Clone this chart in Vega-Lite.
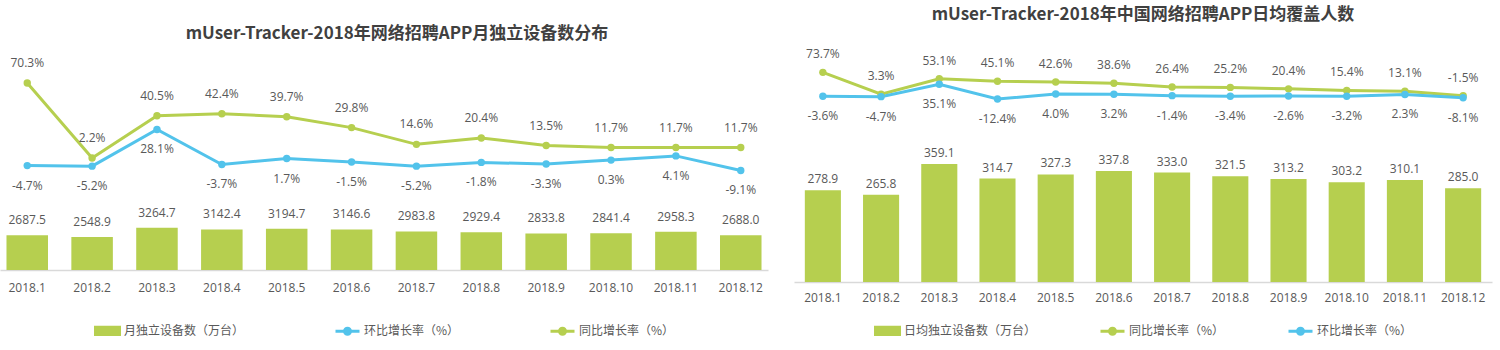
{
  "$schema": "https://vega.github.io/schema/vega-lite/v6.json",
  "padding": {"left": 0, "top": 6, "right": 5, "bottom": 5},
  "bounds": "flush",
  "spacing": 26,
  "config": {
    "view": {"stroke": null},
    "locale": {"number": {"decimal": ".", "thousands": ",", "grouping": [3], "currency": ["", ""], "minus": "-"}},
    "axisX": {"labelFont": "Open Sans", "labelFontSize": 12, "labelColor": "#595959", "ticks": false, "domainColor": "#d9d9d9", "domainWidth": 1.5, "grid": false, "labelAngle": 0},
    "legend": {"padding": 0, "layout": {"bottom": {"anchor": "middle"}}},
    "title": {"font": "Noto Sans CJK SC", "fontSize": 17, "fontWeight": "bold", "color": "#404040", "anchor": "middle", "frame": "group"}
  },
  "datasets": {
    "lbar": [
      {"m": "2018.1", "v": 2687.5}, {"m": "2018.2", "v": 2548.9}, {"m": "2018.3", "v": 3264.7}, {"m": "2018.4", "v": 3142.4},
      {"m": "2018.5", "v": 3194.7}, {"m": "2018.6", "v": 3146.6}, {"m": "2018.7", "v": 2983.8}, {"m": "2018.8", "v": 2929.4},
      {"m": "2018.9", "v": 2833.8}, {"m": "2018.10", "v": 2841.4}, {"m": "2018.11", "v": 2958.3}, {"m": "2018.12", "v": 2688.0}
    ],
    "lline": [
      {"m": "2018.1", "s": "环比增长率（%）", "v": -0.047}, {"m": "2018.2", "s": "环比增长率（%）", "v": -0.052},
      {"m": "2018.3", "s": "环比增长率（%）", "v": 0.281}, {"m": "2018.4", "s": "环比增长率（%）", "v": -0.037},
      {"m": "2018.5", "s": "环比增长率（%）", "v": 0.017}, {"m": "2018.6", "s": "环比增长率（%）", "v": -0.015},
      {"m": "2018.7", "s": "环比增长率（%）", "v": -0.052}, {"m": "2018.8", "s": "环比增长率（%）", "v": -0.018},
      {"m": "2018.9", "s": "环比增长率（%）", "v": -0.033}, {"m": "2018.10", "s": "环比增长率（%）", "v": 0.003},
      {"m": "2018.11", "s": "环比增长率（%）", "v": 0.041}, {"m": "2018.12", "s": "环比增长率（%）", "v": -0.091},
      {"m": "2018.1", "s": "同比增长率（%）", "v": 0.703}, {"m": "2018.2", "s": "同比增长率（%）", "v": 0.022},
      {"m": "2018.3", "s": "同比增长率（%）", "v": 0.405}, {"m": "2018.4", "s": "同比增长率（%）", "v": 0.424},
      {"m": "2018.5", "s": "同比增长率（%）", "v": 0.397}, {"m": "2018.6", "s": "同比增长率（%）", "v": 0.298},
      {"m": "2018.7", "s": "同比增长率（%）", "v": 0.146}, {"m": "2018.8", "s": "同比增长率（%）", "v": 0.204},
      {"m": "2018.9", "s": "同比增长率（%）", "v": 0.135}, {"m": "2018.10", "s": "同比增长率（%）", "v": 0.117},
      {"m": "2018.11", "s": "同比增长率（%）", "v": 0.117}, {"m": "2018.12", "s": "同比增长率（%）", "v": 0.117}
    ],
    "rbar": [
      {"m": "2018.1", "v": 278.9}, {"m": "2018.2", "v": 265.8}, {"m": "2018.3", "v": 359.1}, {"m": "2018.4", "v": 314.7},
      {"m": "2018.5", "v": 327.3}, {"m": "2018.6", "v": 337.8}, {"m": "2018.7", "v": 333.0}, {"m": "2018.8", "v": 321.5},
      {"m": "2018.9", "v": 313.2}, {"m": "2018.10", "v": 303.2}, {"m": "2018.11", "v": 310.1}, {"m": "2018.12", "v": 285.0}
    ],
    "rline": [
      {"m": "2018.1", "s": "同比增长率（%）", "v": 0.737}, {"m": "2018.2", "s": "同比增长率（%）", "v": 0.033},
      {"m": "2018.3", "s": "同比增长率（%）", "v": 0.531}, {"m": "2018.4", "s": "同比增长率（%）", "v": 0.451},
      {"m": "2018.5", "s": "同比增长率（%）", "v": 0.426}, {"m": "2018.6", "s": "同比增长率（%）", "v": 0.386},
      {"m": "2018.7", "s": "同比增长率（%）", "v": 0.264}, {"m": "2018.8", "s": "同比增长率（%）", "v": 0.252},
      {"m": "2018.9", "s": "同比增长率（%）", "v": 0.204}, {"m": "2018.10", "s": "同比增长率（%）", "v": 0.154},
      {"m": "2018.11", "s": "同比增长率（%）", "v": 0.131}, {"m": "2018.12", "s": "同比增长率（%）", "v": -0.015},
      {"m": "2018.1", "s": "环比增长率（%）", "v": -0.036}, {"m": "2018.2", "s": "环比增长率（%）", "v": -0.047},
      {"m": "2018.3", "s": "环比增长率（%）", "v": 0.351}, {"m": "2018.4", "s": "环比增长率（%）", "v": -0.124},
      {"m": "2018.5", "s": "环比增长率（%）", "v": 0.040}, {"m": "2018.6", "s": "环比增长率（%）", "v": 0.032},
      {"m": "2018.7", "s": "环比增长率（%）", "v": -0.014}, {"m": "2018.8", "s": "环比增长率（%）", "v": -0.034},
      {"m": "2018.9", "s": "环比增长率（%）", "v": -0.026}, {"m": "2018.10", "s": "环比增长率（%）", "v": -0.032},
      {"m": "2018.11", "s": "环比增长率（%）", "v": 0.023}, {"m": "2018.12", "s": "环比增长率（%）", "v": -0.081}
    ]
  },
  "hconcat": [
    {
      "width": 768,
      "height": 224,
      "title": {"text": "mUser-Tracker-2018年网络招聘APP月独立设备数分布", "offset": 3, "dx": 13},
      "resolve": {"scale": {"y": "independent"}},
      "layer": [
        {
          "data": {"name": "lbar"},
          "mark": {"type": "bar"},
          "encoding": {
            "x": {"field": "m", "type": "ordinal", "scale": {"domain": ["2018.1","2018.2","2018.3","2018.4","2018.5","2018.6","2018.7","2018.8","2018.9","2018.10","2018.11","2018.12"], "paddingInner": 0.36, "paddingOuter": 0.1}, "axis": {"title": null, "labelPadding": 12}},
            "y": {"field": "v", "type": "quantitative", "scale": {"domain": [0, 17360], "nice": false, "zero": false}, "axis": null},
            "color": {"datum": "月独立设备数（万台）", "type": "nominal",
              "scale": {"domain": ["月独立设备数（万台）", "环比增长率（%）", "同比增长率（%）"], "range": ["#b6cf4f", "#52c3eb", "#b6cf4f"]},
              "legend": {"title": null, "orient": "bottom", "direction": "horizontal", "offset": 24, "labelFont": "Noto Sans CJK SC", "labelFontSize": 12, "labelColor": "#595959", "labelOffset": 3, "symbolSize": 576, "columnPadding": 84,
                "encode": {"symbols": {"update": {
                  "shape": {"signal": "indexof(datum.value,'万台')>=0 ? 'M-1,-0.3H1V0.3H-1Z' : 'M-1,0H1M-0.25,0A0.25,0.25,0,1,1,0.25,0A0.25,0.25,0,1,1,-0.25,0'"},
                  "fill": {"signal": "indexof(datum.value,'环比')>=0 ? '#52c3eb' : '#b6cf4f'"},
                  "stroke": {"signal": "indexof(datum.value,'万台')>=0 ? 'transparent' : (indexof(datum.value,'环比')>=0 ? '#52c3eb' : '#b6cf4f')"},
                  "strokeWidth": {"value": 3},
                  "opacity": {"value": 1}
                }}}}
            }
          }
        },
        {
          "data": {"name": "lbar"},
          "mark": {"type": "text", "font": "Open Sans", "fontSize": 12, "color": "#595959", "baseline": "middle", "dy": -15},
          "encoding": {
            "x": {"field": "m", "type": "ordinal", "scale": {"domain": ["2018.1","2018.2","2018.3","2018.4","2018.5","2018.6","2018.7","2018.8","2018.9","2018.10","2018.11","2018.12"], "paddingInner": 0.36, "paddingOuter": 0.1}, "axis": {"title": null, "labelPadding": 12}},
            "y": {"field": "v", "type": "quantitative", "scale": {"domain": [0, 17360], "nice": false, "zero": false}, "axis": null},
            "text": {"field": "v", "type": "quantitative", "format": ".1f"}
          }
        },
        {
          "data": {"name": "lline"},
          "mark": {"type": "line", "strokeWidth": 3, "point": {"filled": true, "size": 55}},
          "encoding": {
            "x": {"field": "m", "type": "ordinal", "scale": {"domain": ["2018.1","2018.2","2018.3","2018.4","2018.5","2018.6","2018.7","2018.8","2018.9","2018.10","2018.11","2018.12"], "paddingInner": 0.36, "paddingOuter": 0.1}, "axis": {"title": null, "labelPadding": 12}},
            "y": {"field": "v", "type": "quantitative", "scale": {"domain": [-0.995, 1.039], "nice": false, "zero": false}, "axis": null},
            "color": {"field": "s", "type": "nominal",
              "scale": {"domain": ["月独立设备数（万台）", "环比增长率（%）", "同比增长率（%）"], "range": ["#b6cf4f", "#52c3eb", "#b6cf4f"]},
              "legend": {"title": null, "orient": "bottom", "direction": "horizontal", "offset": 24, "labelFont": "Noto Sans CJK SC", "labelFontSize": 12, "labelColor": "#595959", "labelOffset": 3, "symbolSize": 576, "columnPadding": 84,
                "encode": {"symbols": {"update": {
                  "shape": {"signal": "indexof(datum.value,'万台')>=0 ? 'M-1,-0.3H1V0.3H-1Z' : 'M-1,0H1M-0.25,0A0.25,0.25,0,1,1,0.25,0A0.25,0.25,0,1,1,-0.25,0'"},
                  "fill": {"signal": "indexof(datum.value,'环比')>=0 ? '#52c3eb' : '#b6cf4f'"},
                  "stroke": {"signal": "indexof(datum.value,'万台')>=0 ? 'transparent' : (indexof(datum.value,'环比')>=0 ? '#52c3eb' : '#b6cf4f')"},
                  "strokeWidth": {"value": 3},
                  "opacity": {"value": 1}
                }}}}
            }
          }
        },
        {
          "data": {"name": "lline"},
          "transform": [{"filter": "datum.s === '同比增长率（%）'"}],
          "mark": {"type": "text", "font": "Open Sans", "fontSize": 12, "color": "#595959", "baseline": "middle", "dy": -20},
          "encoding": {
            "x": {"field": "m", "type": "ordinal", "scale": {"domain": ["2018.1","2018.2","2018.3","2018.4","2018.5","2018.6","2018.7","2018.8","2018.9","2018.10","2018.11","2018.12"], "paddingInner": 0.36, "paddingOuter": 0.1}, "axis": {"title": null, "labelPadding": 12}},
            "y": {"field": "v", "type": "quantitative", "scale": {"domain": [-0.995, 1.039], "nice": false, "zero": false}, "axis": null},
            "text": {"field": "v", "type": "quantitative", "format": ".1%"}
          }
        },
        {
          "data": {"name": "lline"},
          "transform": [{"filter": "datum.s === '环比增长率（%）'"}],
          "mark": {"type": "text", "font": "Open Sans", "fontSize": 12, "color": "#595959", "baseline": "middle", "dy": 20},
          "encoding": {
            "x": {"field": "m", "type": "ordinal", "scale": {"domain": ["2018.1","2018.2","2018.3","2018.4","2018.5","2018.6","2018.7","2018.8","2018.9","2018.10","2018.11","2018.12"], "paddingInner": 0.36, "paddingOuter": 0.1}, "axis": {"title": null, "labelPadding": 12}},
            "y": {"field": "v", "type": "quantitative", "scale": {"domain": [-0.995, 1.039], "nice": false, "zero": false}, "axis": null},
            "text": {"field": "v", "type": "quantitative", "format": ".1%"}
          }
        }
      ]
    },
    {
      "width": 698,
      "height": 236,
      "title": {"text": "mUser-Tracker-2018年中国网络招聘APP日均覆盖人数", "offset": 22},
      "resolve": {"scale": {"y": "independent"}},
      "layer": [
        {
          "data": {"name": "rbar"},
          "mark": {"type": "bar"},
          "encoding": {
            "x": {"field": "m", "type": "ordinal", "scale": {"domain": ["2018.1","2018.2","2018.3","2018.4","2018.5","2018.6","2018.7","2018.8","2018.9","2018.10","2018.11","2018.12"], "paddingInner": 0.38, "paddingOuter": 0.186}, "axis": {"title": null, "labelPadding": 10}},
            "y": {"field": "v", "type": "quantitative", "scale": {"domain": [0, 718.2], "nice": false, "zero": false}, "axis": null},
            "color": {"datum": "日均独立设备数（万台）", "type": "nominal",
              "scale": {"domain": ["日均独立设备数（万台）", "同比增长率（%）", "环比增长率（%）"], "range": ["#b6cf4f", "#b6cf4f", "#52c3eb"]},
              "legend": {"title": null, "orient": "bottom", "direction": "horizontal", "offset": 14, "labelFont": "Noto Sans CJK SC", "labelFontSize": 12, "labelColor": "#595959", "labelOffset": 3, "symbolSize": 576, "columnPadding": 57,
                "encode": {"symbols": {"update": {
                  "shape": {"signal": "indexof(datum.value,'万台')>=0 ? 'M-1,-0.3H1V0.3H-1Z' : 'M-1,0H1M-0.25,0A0.25,0.25,0,1,1,0.25,0A0.25,0.25,0,1,1,-0.25,0'"},
                  "fill": {"signal": "indexof(datum.value,'环比')>=0 ? '#52c3eb' : '#b6cf4f'"},
                  "stroke": {"signal": "indexof(datum.value,'万台')>=0 ? 'transparent' : (indexof(datum.value,'环比')>=0 ? '#52c3eb' : '#b6cf4f')"},
                  "strokeWidth": {"value": 3},
                  "opacity": {"value": 1}
                }}}}
            }
          }
        },
        {
          "data": {"name": "rbar"},
          "mark": {"type": "text", "font": "Open Sans", "fontSize": 12, "color": "#595959", "baseline": "middle", "dy": -11},
          "encoding": {
            "x": {"field": "m", "type": "ordinal", "scale": {"domain": ["2018.1","2018.2","2018.3","2018.4","2018.5","2018.6","2018.7","2018.8","2018.9","2018.10","2018.11","2018.12"], "paddingInner": 0.38, "paddingOuter": 0.186}, "axis": {"title": null, "labelPadding": 10}},
            "y": {"field": "v", "type": "quantitative", "scale": {"domain": [0, 718.2], "nice": false, "zero": false}, "axis": null},
            "text": {"field": "v", "type": "quantitative", "format": ".1f"}
          }
        },
        {
          "data": {"name": "rline"},
          "mark": {"type": "line", "strokeWidth": 3, "point": {"filled": true, "size": 55}},
          "encoding": {
            "x": {"field": "m", "type": "ordinal", "scale": {"domain": ["2018.1","2018.2","2018.3","2018.4","2018.5","2018.6","2018.7","2018.8","2018.9","2018.10","2018.11","2018.12"], "paddingInner": 0.38, "paddingOuter": 0.186}, "axis": {"title": null, "labelPadding": 10}},
            "y": {"field": "v", "type": "quantitative", "scale": {"domain": [-6.026, 1.587], "nice": false, "zero": false}, "axis": null},
            "color": {"field": "s", "type": "nominal",
              "scale": {"domain": ["日均独立设备数（万台）", "同比增长率（%）", "环比增长率（%）"], "range": ["#b6cf4f", "#b6cf4f", "#52c3eb"]},
              "legend": {"title": null, "orient": "bottom", "direction": "horizontal", "offset": 14, "labelFont": "Noto Sans CJK SC", "labelFontSize": 12, "labelColor": "#595959", "labelOffset": 3, "symbolSize": 576, "columnPadding": 57,
                "encode": {"symbols": {"update": {
                  "shape": {"signal": "indexof(datum.value,'万台')>=0 ? 'M-1,-0.3H1V0.3H-1Z' : 'M-1,0H1M-0.25,0A0.25,0.25,0,1,1,0.25,0A0.25,0.25,0,1,1,-0.25,0'"},
                  "fill": {"signal": "indexof(datum.value,'环比')>=0 ? '#52c3eb' : '#b6cf4f'"},
                  "stroke": {"signal": "indexof(datum.value,'万台')>=0 ? 'transparent' : (indexof(datum.value,'环比')>=0 ? '#52c3eb' : '#b6cf4f')"},
                  "strokeWidth": {"value": 3},
                  "opacity": {"value": 1}
                }}}}
            }
          }
        },
        {
          "data": {"name": "rline"},
          "transform": [{"filter": "datum.s === '同比增长率（%）'"}],
          "mark": {"type": "text", "font": "Open Sans", "fontSize": 12, "color": "#595959", "baseline": "middle", "dy": -18},
          "encoding": {
            "x": {"field": "m", "type": "ordinal", "scale": {"domain": ["2018.1","2018.2","2018.3","2018.4","2018.5","2018.6","2018.7","2018.8","2018.9","2018.10","2018.11","2018.12"], "paddingInner": 0.38, "paddingOuter": 0.186}, "axis": {"title": null, "labelPadding": 10}},
            "y": {"field": "v", "type": "quantitative", "scale": {"domain": [-6.026, 1.587], "nice": false, "zero": false}, "axis": null},
            "text": {"field": "v", "type": "quantitative", "format": ".1%"}
          }
        },
        {
          "data": {"name": "rline"},
          "transform": [{"filter": "datum.s === '环比增长率（%）'"}],
          "mark": {"type": "text", "font": "Open Sans", "fontSize": 12, "color": "#595959", "baseline": "middle", "dy": 20},
          "encoding": {
            "x": {"field": "m", "type": "ordinal", "scale": {"domain": ["2018.1","2018.2","2018.3","2018.4","2018.5","2018.6","2018.7","2018.8","2018.9","2018.10","2018.11","2018.12"], "paddingInner": 0.38, "paddingOuter": 0.186}, "axis": {"title": null, "labelPadding": 10}},
            "y": {"field": "v", "type": "quantitative", "scale": {"domain": [-6.026, 1.587], "nice": false, "zero": false}, "axis": null},
            "text": {"field": "v", "type": "quantitative", "format": ".1%"}
          }
        }
      ]
    }
  ],
  "resolve": {"scale": {"color": "independent"}, "legend": {"color": "independent"}}
}
